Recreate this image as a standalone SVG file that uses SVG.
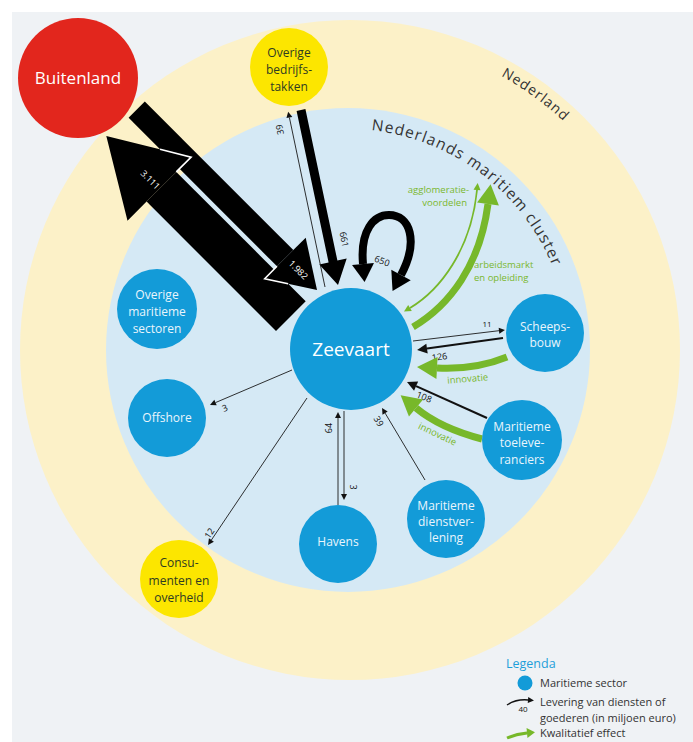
<svg xmlns="http://www.w3.org/2000/svg" width="693" height="742" viewBox="0 0 693 742">
<style>
.txt{font-family:"Open Sans","Noto Sans","Liberation Sans",sans-serif}
.nb{fill:#139bd8}
.ny{fill:#fce600}
.nl{font-family:"Open Sans","Noto Sans","Liberation Sans",sans-serif;font-size:12px;fill:#eaf5fc;text-anchor:middle}
.nd{font-family:"Open Sans","Noto Sans","Liberation Sans",sans-serif;font-size:12px;fill:#2e3b22;text-anchor:middle}
.num{font-family:"Open Sans","Noto Sans","Liberation Sans",sans-serif;font-size:9px;fill:#111;text-anchor:middle}
.numw{font-family:"Open Sans","Noto Sans","Liberation Sans",sans-serif;font-size:9px;fill:#fff;text-anchor:middle}
.gl{font-family:"Open Sans","Noto Sans","Liberation Sans",sans-serif;font-size:9.5px;fill:#7ab72e}
.thin{fill:none;stroke:#1a1a1a;stroke-width:0.9}
.med{fill:none;stroke:#111;stroke-width:2}
.gthick{fill:none;stroke:#77b82a;stroke-width:7}
.gthin{fill:none;stroke:#77b82a;stroke-width:1.8}
.big{fill:#000}
.halo{fill:none;stroke:#fff;stroke-width:1.6;stroke-linejoin:miter}
.leg{font-family:"Open Sans","Noto Sans","Liberation Sans",sans-serif;font-size:11px;fill:#333}
</style>
<defs>
<marker id="mBS" markerUnits="userSpaceOnUse" markerWidth="10" markerHeight="10" refX="0" refY="0" orient="auto-start-reverse" overflow="visible"><path d="M0,-3 L6,0 L0,3 z" fill="#111"/></marker>
<marker id="mBM" markerUnits="userSpaceOnUse" markerWidth="12" markerHeight="12" refX="0" refY="0" orient="auto-start-reverse" overflow="visible"><path d="M0,-5 L10,0 L0,5 z" fill="#111"/></marker>
<marker id="mBL" markerUnits="userSpaceOnUse" markerWidth="20" markerHeight="20" refX="0" refY="0" orient="auto-start-reverse" overflow="visible"><path d="M0,-11 L18,0 L0,11 z" fill="#000"/></marker>
<marker id="mGS" markerUnits="userSpaceOnUse" markerWidth="10" markerHeight="10" refX="0" refY="0" orient="auto-start-reverse" overflow="visible"><path d="M0,-3.5 L7,0 L0,3.5 z" fill="#77b82a"/></marker>
<marker id="mGM" markerUnits="userSpaceOnUse" markerWidth="10" markerHeight="10" refX="0" refY="0" orient="auto-start-reverse" overflow="visible"><path d="M0,-5 L8,0 L0,5 z" fill="#77b82a"/></marker>
<marker id="mGL" markerUnits="userSpaceOnUse" markerWidth="22" markerHeight="22" refX="0" refY="0" orient="auto-start-reverse" overflow="visible"><path d="M0,-11 L20,0 L0,11 z" fill="#77b82a"/></marker>
<path id="arcNL" d="M 222.7 64.1 A 313 313 0 0 1 661.3 382.7"/>
<path id="arcCL" d="M 237.5 158.6 A 221 221 0 0 1 562.4 403.5"/>
</defs>

<g id="background">
<rect x="0" y="0" width="693" height="742" fill="#ffffff"/>
<rect x="12" y="12" width="681" height="730" fill="#eff2f5"/>
</g>
<g id="region-nederland">
<circle cx="350" cy="350" r="330" fill="#fcf1c8"/>
<text class="txt" font-size="14" fill="#333" letter-spacing="1"><textPath href="#arcNL" startOffset="50%" text-anchor="middle">Nederland</textPath></text>
</g>
<g id="region-cluster">
<circle cx="348" cy="350" r="242" fill="#d5e9f5"/>
<text class="txt" font-size="15.5" fill="#333" letter-spacing="1.2"><textPath href="#arcCL" startOffset="50%" text-anchor="middle">Nederlands maritiem cluster</textPath></text>
</g>

<g id="connectors">
<!-- bodies -->
<polygon class="big" points="144.8,101.6 293.3,250 277,266.3 128.6,117.8"/>
<polygon class="big" points="176.3,171.9 305.7,301.3 276,331 146.6,201.6"/>
<!-- Zeevaart -> Buitenland head (3.111) -->
<polygon class="big" points="106.3,135.9 191.1,157.1 176.3,171.9 146.6,201.6 127.5,220.7"/>
<polyline class="halo" points="160,149.3 191.1,157.1 176.3,171.9"/>
<!-- Buitenland -> Zeevaart head (1.982) -->
<polygon class="big" points="293.3,250 305.7,237.7 317,290 264.7,278.7 277,266.3"/>
<polyline class="halo" points="277,266.3 264.7,278.7 288.1,283.8"/>
<text class="numw" transform="translate(296,272) rotate(45)">1.982</text>
<text class="numw" transform="translate(148,182) rotate(45)">3.111</text>

<!-- Overige bedrijfstakken -> Zeevaart (661) -->
<polygon points="305.4,109.1 337.4,260.6 346.7,258.6 338,285 319.3,264.4 328.6,262.4 296.6,110.9" fill="#000"/>
<text class="num" transform="translate(341,240) rotate(78)">661</text>
<!-- Zeevaart -> Overige bedrijfstakken (39) -->
<line class="thin" x1="325" y1="287" x2="289.4" y2="117.5" marker-end="url(#mBS)"/>
<text class="num" transform="translate(283,129) rotate(-102)">39</text>

<!-- self loop 650 -->
<path d="M 363 264 C 360 230, 374 215, 389 215 C 410 215, 419 241, 401 275" fill="none" stroke="#000" stroke-width="8" marker-start="url(#mBL)" marker-end="url(#mBL)"/>
<text class="num" transform="translate(381,264) rotate(20)">650</text>

<!-- green qualitative effects -->
<path class="gthin" d="M 410 308 C 440 290, 471 250, 477 190" marker-start="url(#mGS)" marker-end="url(#mGS)"/>
<path class="gthick" d="M 413 327 C 450 305, 480 265, 488 204" marker-end="url(#mGL)"/>
<text class="gl" x="469" y="193" text-anchor="end">agglomeratie-</text>
<text class="gl" x="467" y="206" text-anchor="end">voordelen</text>
<text class="gl" x="474" y="268">arbeidsmarkt</text>
<text class="gl" x="474" y="281">en opleiding</text>

<!-- Scheepsbouw -->
<line class="thin" x1="413" y1="341" x2="499" y2="330.7" marker-end="url(#mBS)"/>
<text class="num" x="487" y="327" style="font-size:8px">11</text>
<line class="med" x1="503" y1="338" x2="427" y2="348.6" marker-end="url(#mBM)"/>
<text class="num" transform="translate(440,360) rotate(-8)">126</text>
<path class="gthick" d="M 507 357 Q 475 370 437 368" marker-end="url(#mGL)"/>
<text class="gl" transform="translate(468,382) rotate(-5)" text-anchor="middle">innovatie</text>

<!-- Maritieme toeleveranciers -->
<line class="med" x1="487" y1="418" x2="416.1" y2="386.1" marker-end="url(#mBM)"/>
<text class="num" transform="translate(423,400) rotate(22)">108</text>
<path class="gthick" d="M 482 439 Q 440 428 416 408" marker-end="url(#mGL)"/>
<text class="gl" transform="translate(436,437) rotate(25)" text-anchor="middle">innovatie</text>

<!-- Offshore -->
<line class="thin" x1="292" y1="370" x2="215.5" y2="402.6" marker-end="url(#mBS)"/>
<text class="num" transform="translate(226,411) rotate(-23)">3</text>
<!-- Consumenten en overheid -->
<line class="thin" x1="307" y1="398" x2="211.4" y2="540" marker-end="url(#mBS)"/>
<text class="num" transform="translate(212,535) rotate(-56)">12</text>
<!-- Havens -->
<line class="thin" x1="338" y1="505" x2="338" y2="418" marker-end="url(#mBS)"/>
<text class="num" transform="translate(332,428) rotate(-90)">64</text>
<line class="thin" x1="344" y1="411" x2="344" y2="494" marker-end="url(#mBS)"/>
<text class="num" transform="translate(350,487) rotate(90)">3</text>
<!-- Maritieme dienstverlening -->
<line class="thin" x1="425" y1="480" x2="385.1" y2="413.1" marker-end="url(#mBS)"/>
<text class="num" transform="translate(376,423) rotate(59)">39</text>
</g>

<g id="n-buitenland">
<circle cx="78" cy="78" r="60" fill="#e2261d"/>
<text class="nl" x="78" y="84" style="font-size:17px;fill:#fff">Buitenland</text>
</g>
<g id="n-overige-bedrijfstakken">
<circle cx="289" cy="67" r="39" class="ny"/>
<text class="nd" x="289" y="57">Overige</text>
<text class="nd" x="289" y="74">bedrijfs-</text>
<text class="nd" x="289" y="91">takken</text>
</g>
<g id="n-zeevaart">
<circle cx="351" cy="349" r="61" class="nb"/>
<text class="nl" x="351" y="356" style="font-size:19px;fill:#fff">Zeevaart</text>
</g>
<g id="n-overige-maritieme-sectoren">
<circle cx="157" cy="309" r="40" class="nb"/>
<text class="nl" x="157" y="299">Overige</text>
<text class="nl" x="157" y="316">maritieme</text>
<text class="nl" x="157" y="333">sectoren</text>
</g>
<g id="n-offshore">
<circle cx="167" cy="418" r="39" class="nb"/>
<text class="nl" x="167" y="422">Offshore</text>
</g>
<g id="n-scheepsbouw">
<circle cx="545" cy="333" r="39" class="nb"/>
<text class="nl" x="545" y="331">Scheeps-</text>
<text class="nl" x="545" y="347">bouw</text>
</g>
<g id="n-maritieme-toeleveranciers">
<circle cx="522" cy="440" r="40" class="nb"/>
<text class="nl" x="522" y="431">Maritieme</text>
<text class="nl" x="522" y="447">toeleve-</text>
<text class="nl" x="522" y="464">ranciers</text>
</g>
<g id="n-havens">
<circle cx="338" cy="544" r="39" class="nb"/>
<text class="nl" x="338" y="546">Havens</text>
</g>
<g id="n-maritieme-dienstverlening">
<circle cx="446" cy="519" r="39" class="nb"/>
<text class="nl" x="446" y="510">Maritieme</text>
<text class="nl" x="446" y="526">dienstver-</text>
<text class="nl" x="446" y="542">lening</text>
</g>
<g id="n-consumenten-en-overheid">
<circle cx="179" cy="579" r="39" class="ny"/>
<text class="nd" x="179" y="567">Consu-</text>
<text class="nd" x="179" y="585">menten en</text>
<text class="nd" x="179" y="602">overheid</text>
</g>

<g id="legend">
<text class="txt" x="506" y="668" font-size="12.5" fill="#1d9fda">Legenda</text>
<circle cx="525" cy="683" r="7.5" class="nb"/>
<text class="leg" x="540" y="687">Maritieme sector</text>
<path d="M 507 705 Q 516 699 528 700" fill="none" stroke="#111" stroke-width="1.5" marker-end="url(#mBS)"/>
<text class="num" x="523" y="712" style="font-size:8px">40</text>
<text class="leg" x="540" y="706">Levering van diensten of</text>
<text class="leg" x="540" y="722">goederen (in miljoen euro)</text>
<path d="M 507 738 Q 516 734 527 733" fill="none" stroke="#77b82a" stroke-width="3" marker-end="url(#mGM)"/>
<text class="leg" x="540" y="737">Kwalitatief effect</text>
</g>
</svg>
